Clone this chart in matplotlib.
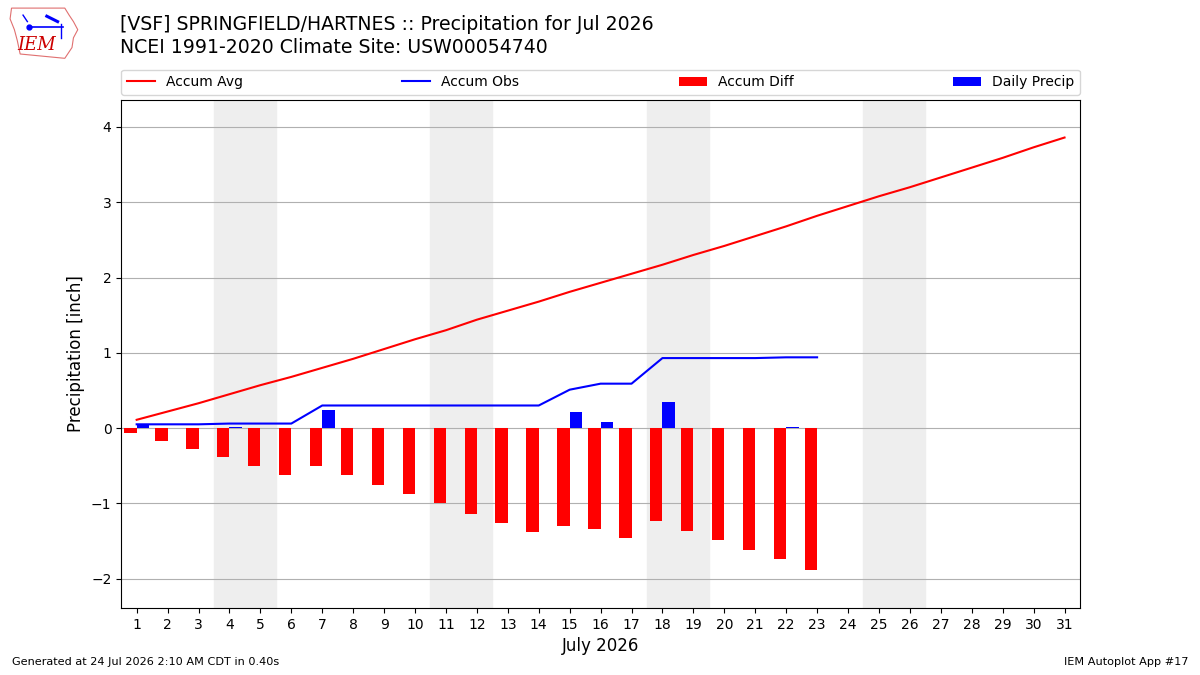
import numpy as np
import matplotlib.pyplot as plt
from matplotlib.patches import Polygon

days = np.arange(1, 32)
# climatological accumulated average (inch)
accum_avg = [0.11, 0.22, 0.33, 0.45, 0.57, 0.68, 0.80, 0.92, 1.05, 1.18,
             1.30, 1.44, 1.56, 1.68, 1.81, 1.93, 2.05, 2.17, 2.30, 2.42,
             2.55, 2.68, 2.82, 2.95, 3.08, 3.20, 3.33, 3.46, 3.59, 3.73, 3.86]
# observed daily precip through the 23rd
daily_precip = [0.05, 0.0, 0.0, 0.01, 0.0, 0.0, 0.24, 0.0, 0.0, 0.0,
                0.0, 0.0, 0.0, 0.0, 0.21, 0.08, 0.0, 0.34, 0.0, 0.0,
                0.0, 0.01, 0.0]
weekends = [(3.5, 5.5), (10.5, 12.5), (17.5, 19.5), (24.5, 26.5)]

obs_days = days[:len(daily_precip)]
accum_obs = np.cumsum(daily_precip)
accum_diff = accum_obs - np.array(accum_avg[:len(daily_precip)])

fig = plt.figure(figsize=(12, 6.75), dpi=100)
ax = fig.add_axes([0.101, 0.0993, 0.799, 0.7527])

for start, end in weekends:
    ax.axvspan(start, end, color="#eeeeee", zorder=0)

ax.plot(days, accum_avg, color="r", lw=1.5, label="Accum Avg", zorder=3)
ax.plot(obs_days, accum_obs, color="b", lw=1.5, label="Accum Obs", zorder=3)
ax.bar(obs_days - 0.2, accum_diff, width=0.4, color="r", label="Accum Diff", zorder=2)
ax.bar(obs_days + 0.2, daily_precip, width=0.4, color="b", label="Daily Precip", zorder=2)

ax.set_xlim(0.5, 31.5)
ax.set_ylim(-2.39, 4.36)
ax.set_xticks(days)
ax.set_yticks(range(-2, 5))
ax.grid(axis="y", color="#b0b0b0", lw=0.8)
ax.set_axisbelow(True)
ax.set_xlabel("July 2026", fontsize=12)
ax.set_ylabel("Precipitation [inch]", fontsize=12)
ax.tick_params(labelsize=10)

ax.legend(loc="lower left", bbox_to_anchor=(0, 1.01, 1, 0.05), ncol=4,
          mode="expand", borderaxespad=0, fontsize=10)

fig.text(0.1, 0.963, "[VSF] SPRINGFIELD/HARTNES :: Precipitation for Jul 2026",
         fontsize=13.6, va="center")
fig.text(0.1, 0.929, "NCEI 1991-2020 Climate Site: USW00054740",
         fontsize=13.6, va="center")

fig.text(0.01, 0.015, "Generated at 24 Jul 2026 2:10 AM CDT in 0.40s", fontsize=8.1)
fig.text(0.99, 0.015, "IEM Autoplot App #17", fontsize=8.1, ha="right")

# rough IEM logo
logo = fig.add_axes([0.006, 0.912, 0.06, 0.08])
logo.set_xlim(0, 1)
logo.set_ylim(0, 1)
logo.axis("off")
iowa = [(0.06, 0.95), (0.8, 0.95), (0.86, 0.82), (0.92, 0.7), (0.98, 0.55),
        (0.92, 0.4), (0.9, 0.22), (0.85, 0.12), (0.8, 0.02), (0.18, 0.1),
        (0.14, 0.35), (0.1, 0.55), (0.04, 0.75)]
logo.add_patch(Polygon(iowa, closed=True, fill=False, ec="#e07070", lw=0.8))
logo.plot([0.3, 0.78], [0.6, 0.6], color="b", lw=1.2)
logo.plot([0.3], [0.6], "bo", ms=3.5)
logo.plot([0.22, 0.28], [0.82, 0.7], color="b", lw=1)
logo.plot([0.55, 0.7], [0.8, 0.7], color="b", lw=2.2)
logo.plot([0.75, 0.75], [0.65, 0.4], color="b", lw=1)
logo.text(0.14, 0.26, "IEM", color="#cc0000", fontsize=13, family="DejaVu Serif",
          style="italic", va="center")

fig.savefig("out.png", dpi=100)
